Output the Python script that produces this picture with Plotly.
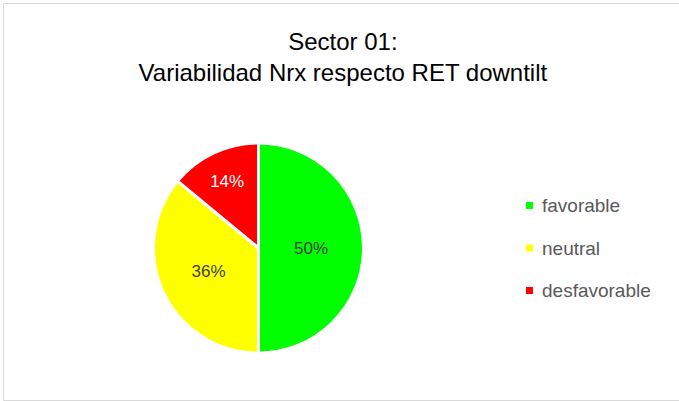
"""Sector 01 pie: Nrx variability vs RET downtilt."""

import plotly.graph_objects as go

FONT = "Liberation Sans, Arial, sans-serif"

categories = ["favorable", "neutral", "desfavorable"]
shares = [50, 36, 14]
colors = ["#00ff00", "#ffff00", "#ff0000"]
label_colors = ["#404040", "#404040", "#ffffff"]

W, H = 679, 401

fig = go.Figure(
    go.Pie(
        labels=categories,
        values=shares,
        sort=False,
        direction="clockwise",
        rotation=0,
        marker=dict(colors=colors, line=dict(color="white", width=3)),
        textinfo="percent",
        texttemplate="%{percent:.0%}",
        textposition="inside",
        insidetextorientation="horizontal",
        insidetextfont=dict(family=FONT, size=17, color=label_colors),
        domain=dict(x=[153 / W, 364 / W], y=[1 - 353 / H, 1 - 143 / H]),
        showlegend=False,
        hoverinfo="label+percent",
    )
)

# hand-drawn legend (wide spacing like the Excel original)
for i, (cat, col) in enumerate(zip(categories, colors)):
    yc = 205.5 + 42.5 * i
    fig.add_shape(
        type="rect", xref="paper", yref="paper",
        x0=526 / W, x1=533 / W, y0=1 - (yc + 3.5) / H, y1=1 - (yc - 3.5) / H,
        fillcolor=col, line=dict(width=0),
    )
    fig.add_annotation(
        x=540 / W, y=1 - yc / H, xref="paper", yref="paper",
        text=cat, showarrow=False, xanchor="left", yanchor="middle",
        font=dict(family=FONT, size=19, color="#595959"),
    )

# chart-area border (left, top, bottom; right edge runs off the crop)
border = dict(color="#d9d9d9", width=1)
x_l, y_t, y_b = 3.5 / W, 1 - 3.5 / H, 1 - 400.5 / H
for x0, y0, x1, y1 in [(x_l, y_b, x_l, y_t), (x_l, y_t, 1, y_t), (x_l, y_b, 1, y_b)]:
    fig.add_shape(type="line", xref="paper", yref="paper",
                  x0=x0, y0=y0, x1=x1, y1=y1, line=border)

fig.update_layout(
    title=dict(
        text="Sector 01:<br>Variabilidad Nrx respecto RET downtilt",
        x=0.505, xanchor="center", y=1 - 50 / H, yanchor="middle",
        font=dict(family=FONT, size=24, color="#000000"),
    ),
    width=W,
    height=H,
    margin=dict(l=0, r=0, t=0, b=0),
    paper_bgcolor="white",
    plot_bgcolor="white",
    font=dict(family=FONT),
)

fig.write_html(
    "out.html",
    config={"displayModeBar": False},
    post_script="document.body.style.margin='0px';",
)
